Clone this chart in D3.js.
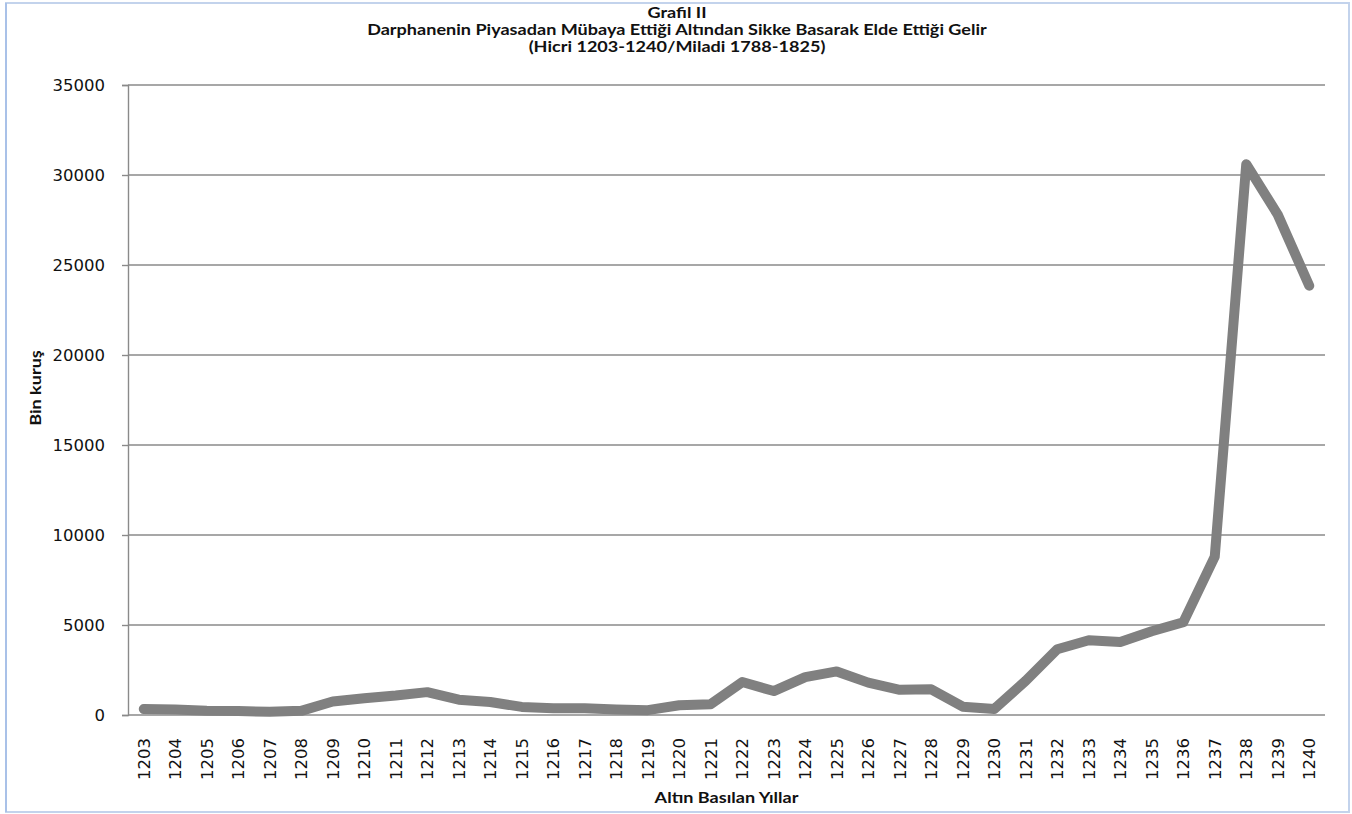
<!DOCTYPE html>
<html>
<head>
<meta charset="utf-8">
<script src="https://cdn.jsdelivr.net/npm/d3@7"></script>
<style>
html,body{margin:0;padding:0;background:#fff;}
svg{display:block;}
</style>
</head>
<body>
<svg id="chart" width="1352" height="814"></svg>
<script>
const years = [1203,1204,1205,1206,1207,1208,1209,1210,1211,1212,1213,1214,1215,1216,1217,1218,1219,1220,1221,1222,1223,1224,1225,1226,1227,1228,1229,1230,1231,1232,1233,1234,1235,1236,1237,1238,1239,1240];
const values = [330,300,230,220,180,230,750,930,1080,1270,850,720,450,380,370,310,270,540,600,1830,1330,2100,2420,1800,1400,1430,460,330,1900,3650,4150,4050,4650,5150,8800,30600,27800,23850];
const yTicks = [0,5000,10000,15000,20000,25000,30000,35000];
const titleLines = ["Grafil II","Darphanenin Piyasadan Mübaya Ettiği Altından Sikke Basarak Elde Ettiği Gelir","(Hicri 1203-1240/Miladi 1788-1825)"];
const yTitle = "Bin kuruş";
const xTitle = "Altın Basılan Yıllar";

const svg = d3.select("#chart");
const plot = {left:128, right:1325, top:85, bottom:715};

// outer border
svg.append("rect").attr("x",6).attr("y",3).attr("width",1343).attr("height",809)
  .attr("fill","#fff").attr("stroke","#c3d3ec").attr("stroke-width",2);
svg.append("line").attr("x1",6).attr("x2",6).attr("y1",3).attr("y2",812)
  .attr("stroke","#a9c1e8").attr("stroke-width",2);

const x = d3.scaleBand().domain(years).range([plot.left, plot.right]).padding(0);
const y = d3.scaleLinear().domain([0,35000]).range([plot.bottom, plot.top]);

// gridlines
svg.append("g").selectAll("line").data(yTicks).join("line")
  .attr("x1",plot.left).attr("x2",plot.right)
  .attr("y1",d=>y(d)).attr("y2",d=>y(d))
  .attr("stroke","#8a8a8a").attr("stroke-width",1.4);

// y axis
const yAxis = d3.axisLeft(y).tickValues(yTicks).tickSize(6).tickPadding(17).tickFormat(d3.format("d"));
const gy = svg.append("g").attr("transform",`translate(${plot.left},0)`).call(yAxis);
gy.select(".domain").attr("stroke","#8a8a8a").attr("stroke-width",1.4);
gy.selectAll(".tick line").attr("stroke","#8a8a8a").attr("stroke-width",1.4);
gy.selectAll(".tick text").attr("font-family","DejaVu Sans, Verdana, sans-serif")
  .attr("font-size","16.5px").attr("fill","#111");

// x labels
const gx = svg.append("g");
gx.selectAll("text").data(years).join("text")
  .attr("transform",d=>`translate(${x(d)+x.bandwidth()/2},738) rotate(-90)`)
  .attr("text-anchor","end").attr("dy","0.36em")
  .attr("font-family","DejaVu Sans, Verdana, sans-serif").attr("font-size","16.5px").attr("fill","#111")
  .text(d=>d);

// line
const line = d3.line().x((d,i)=>x(years[i])+x.bandwidth()/2).y(d=>y(d));
svg.append("path").datum(values).attr("d",line)
  .attr("fill","none").attr("stroke","#808080").attr("stroke-width",10)
  .attr("stroke-linejoin","round").attr("stroke-linecap","round");

// titles: compact font size, stretched horizontally to match the reference width
const fs = 15.5;
const tg = svg.append("g").attr("font-family","Lato, 'Open Sans', sans-serif").attr("font-weight","bold")
  .attr("font-size", fs+"px").attr("fill","#111").attr("text-anchor","middle");
const tEls = titleLines.map((t,i)=> tg.append("text").attr("x",0).attr("y",18+i*17).text(t));
const w = tEls[1].node().getComputedTextLength();
const sx = 620 / w;
tg.attr("transform", `translate(677,0) scale(${sx},1)`);

const yt = svg.append("text").attr("transform",`translate(41,388) rotate(-90) scale(${sx},1)`)
  .attr("text-anchor","middle").attr("font-family","Lato, sans-serif").attr("font-weight","bold")
  .attr("font-size", fs+"px").attr("fill","#111").text(yTitle);

const xt = svg.append("text").attr("transform",`translate(${(plot.left+plot.right)/2},803) scale(${sx},1)`)
  .attr("text-anchor","middle").attr("font-family","Lato, sans-serif").attr("font-weight","bold")
  .attr("font-size", fs+"px").attr("fill","#111").text(xTitle);
</script>
</body>
</html>
